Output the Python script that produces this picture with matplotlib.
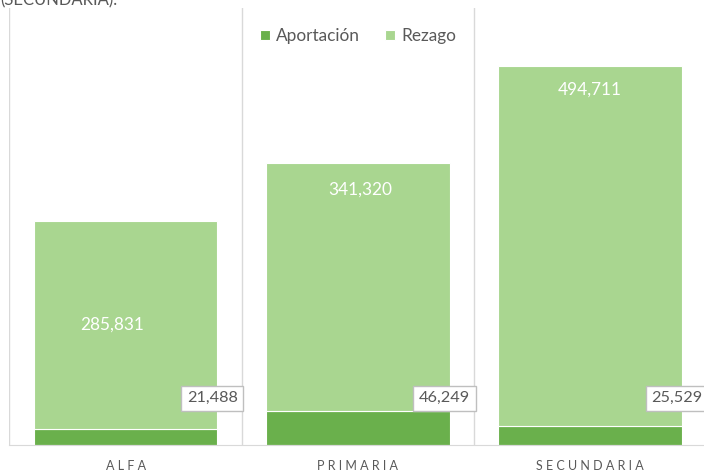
import matplotlib.pyplot as plt
import numpy as np

categories = ["ALFA", "PRIMARIA", "SECUNDARIA"]
aportacion = [21488, 46249, 25529]
rezago = [285831, 341320, 494711]

dark_green = "#6AB04C"
light_green = "#A9D690"
grid_gray = "#D9D9D9"
text_gray = "#595959"

plt.rcParams['font.family'] = ['Lato', 'DejaVu Sans']

fig = plt.figure(figsize=(7.04, 4.74), dpi=100)
ax = fig.add_axes([9.4 / 704, 29 / 474, 697 / 704, 437 / 474])

x = np.arange(len(categories))
ax.bar(x, aportacion, width=0.79, color=dark_green, edgecolor="white", linewidth=0.8,
       label="Aportación", zorder=2)
ax.bar(x, rezago, width=0.79, bottom=aportacion, color=light_green, edgecolor="white",
       linewidth=0.8, label="Rezago", zorder=2)

ax.set_xlim(-0.5, len(categories) - 0.5)
ax.set_ylim(0, 600000)

# category separators
for b in np.arange(len(categories) + 1) - 0.5:
    ax.axvline(b, color=grid_gray, linewidth=1, zorder=1)

for s in ["top", "right", "left"]:
    ax.spines[s].set_visible(False)
ax.spines["bottom"].set_color(grid_gray)
ax.set_yticks([])
ax.set_xticks(x)
ax.set_xticklabels(["\u2009\u2009".join(list(c)) for c in categories], color=text_gray, fontsize=9)
ax.tick_params(axis="x", length=0, pad=11)

# rezago labels (placed inside the light bars, as in the original)
rezago_label_x = [-0.058, 0.012, 0.0]
rezago_label_y = [164600, 350000, 488500]
for i, v in enumerate(rezago):
    ax.text(x[i] + rezago_label_x[i], rezago_label_y[i], f"{v:,}", color="white",
            fontsize=12.4, ha="center", va="center", zorder=3)

# aportacion labels in boxes at the right edge of each bar
for i, v in enumerate(aportacion):
    ax.text(x[i] + 0.373, 64000, f"{v:,}", color=text_gray,
            fontsize=11.7, ha="center", va="center", zorder=4,
            bbox=dict(boxstyle="square,pad=0.35", fc="white", ec="#BFBFBF", lw=1))

ax.legend(loc="upper center", bbox_to_anchor=(0.5, 0.99), ncol=2, frameon=False,
          fontsize=12.4, handlelength=0.55, handleheight=0.55, handletextpad=0.35,
          columnspacing=1.5, labelcolor=text_gray)

fig.text(0.0, 1.0, "(SECUNDARIA).", color=text_gray, fontsize=12, ha="left", va="center")

fig.savefig("out.png", dpi=100)
